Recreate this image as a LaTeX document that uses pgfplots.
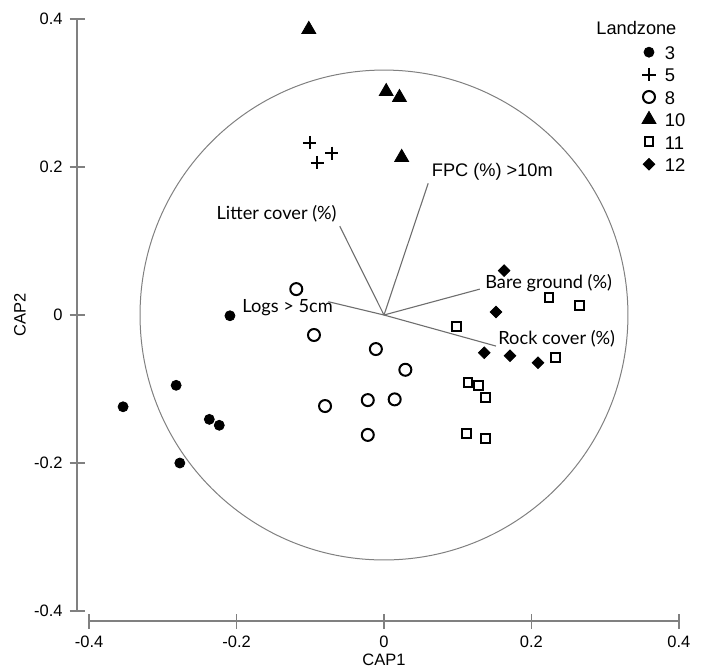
\documentclass[border=0pt]{standalone}
\usepackage{pgfplots}
\pgfplotsset{compat=1.18}
\usepackage{fontspec}
\setmainfont{Liberation Sans}
\newfontfamily\vecfont{Lato}
\definecolor{axgray}{RGB}{128,128,128}
\definecolor{vecgray}{RGB}{110,110,110}
\begin{document}
\begin{tikzpicture}
\begin{axis}[
  x=368.5pt, y=370pt,
  xmin=-0.4, xmax=0.4, ymin=-0.4, ymax=0.4,
  axis lines*=left,
  axis x line shift=5pt,
  axis y line shift=6pt,
  axis line style={draw=axgray, line width=0.8pt, -},
  tick align=center,
  major tick length=7.5pt,
  tick style={axgray, line width=0.8pt},
  xtick={-0.4,-0.2,0,0.2,0.4},
  ytick={-0.4,-0.2,0,0.2,0.4},
  /pgf/number format/assume math mode=true,
  /pgf/number format/fixed,
  ticklabel style={font=\fontsize{8.25}{9}\selectfont},
  xlabel={CAP1}, ylabel={CAP2},
  label style={font=\fontsize{8.25}{9}\selectfont},
  xlabel style={at={(axis description cs:0.5,-0.0827)}, anchor=center},
  ylabel style={at={(axis description cs:-0.1174,0.5)}, anchor=center, rotate=0},
  clip=false,
  legend cell align=left,
  legend style={at={(axis cs:0.3487,0.3676)}, anchor=north west, draw=none, fill=none,
    inner sep=0pt, outer sep=0pt, row sep=0pt, column sep=4pt,
    font=\fontsize{9.2}{10}\selectfont,
    nodes={inner sep=0pt, text height=8.3pt, text depth=2.9pt}},
  legend image code/.code={\path[draw=none,fill=none] (-4pt,0pt) -- (4pt,0pt); \draw[#1] plot coordinates {(0pt,1pt)};},
]
% correlation circle
\draw[axgray, line width=0.5pt] (axis cs:0,0) circle [radius=0.331];
% vectors
\addplot[vecgray, line width=0.55pt, forget plot] coordinates {(0,0) (0.060,0.178)};
\addplot[vecgray, line width=0.55pt, forget plot] coordinates {(0,0) (-0.060,0.120)};
\addplot[vecgray, line width=0.55pt, forget plot] coordinates {(0,0) (-0.0755,0.018)};
\addplot[vecgray, line width=0.55pt, forget plot] coordinates {(0,0) (0.130,0.035)};
\addplot[vecgray, line width=0.55pt, forget plot] coordinates {(0,0) (0.152,-0.042)};
% groups
\addplot[only marks, mark=*, mark size=2.5pt, black, mark options={line width=0.4pt}] coordinates {
 (-0.209,-0.001) (-0.282,-0.095) (-0.354,-0.124) (-0.237,-0.141) (-0.2235,-0.149) (-0.277,-0.200)};
\addlegendentry{3}
\addplot[only marks, mark=+, mark size=3.3pt, black, mark options={line width=1pt}] coordinates {
 (-0.101,0.233) (-0.0905,0.206) (-0.071,0.2185)};
\addlegendentry{5}
\addplot[only marks, mark=o, mark size=3pt, black, mark options={line width=1pt}] coordinates {
 (-0.119,0.035) (-0.095,-0.027) (-0.011,-0.046) (0.029,-0.074) (-0.080,-0.123) (-0.022,-0.115) (0.0145,-0.114) (-0.022,-0.162)};
\addlegendentry{8}
\addplot[only marks, mark=triangle*, mark size=4pt, black, mark options={line width=0.4pt}] coordinates {
 (-0.102,0.386) (0.003,0.302) (0.021,0.294) (0.024,0.213)};
\addlegendentry{10}
\addplot[only marks, mark=square, mark size=2.2pt, black, mark options={line width=1pt}] coordinates {
 (0.098,-0.016) (0.224,0.024) (0.265,0.013) (0.233,-0.057) (0.114,-0.0915) (0.128,-0.095) (0.138,-0.111) (0.112,-0.160) (0.138,-0.167)};
\addlegendentry{11}
\addplot[only marks, mark=square*, mark size=2.05pt, black, mark options={rotate=45, line width=0.4pt}] coordinates {
 (0.163,0.060) (0.152,0.004) (0.136,-0.051) (0.171,-0.055) (0.209,-0.0645)};
\addlegendentry{12}
% vector labels
\node[anchor=west, inner sep=0pt, font=\fontsize{9.1}{10}\selectfont] at (axis cs:0.0645,0.1935) {FPC (\%) >10m};
\begin{scope}[every node/.style={font=\vecfont\fontsize{9.1}{10}\selectfont, inner sep=0pt}]
\node[anchor=east] at (axis cs:-0.0638,0.1365) {Litter cover (\%)};
\node[anchor=west] at (axis cs:-0.1927,0.0095) {Logs > 5cm};
\node[anchor=west] at (axis cs:0.137,0.0432) {Bare ground (\%)};
\node[anchor=west] at (axis cs:0.1547,-0.0324) {Rock cover (\%)};
\end{scope}
\node[anchor=west, inner sep=0pt, font=\fontsize{9.1}{11}\selectfont] at (axis cs:0.2877,0.3878) {Landzone};
\coordinate (bbA) at (axis cs:-0.521,0.4257);
\coordinate (bbB) at (axis cs:0.4315,-0.4784);
\end{axis}
\pgfresetboundingbox
\path[use as bounding box] (bbA) rectangle (bbB);
\end{tikzpicture}
\end{document}
